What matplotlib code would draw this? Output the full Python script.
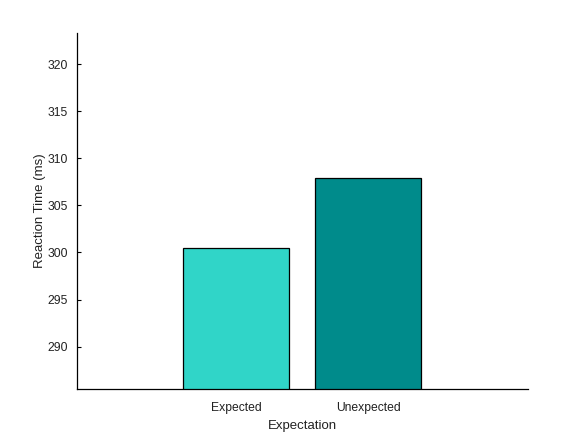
import matplotlib
matplotlib.use('Agg')
import matplotlib.pyplot as plt

plt.rcParams['font.family'] = ['Liberation Sans', 'DejaVu Sans']

# Reaction times per condition
conditions = ['Expected', 'Unexpected']
reaction_times = [300.52, 307.93]
bar_colors = ['#30D5C8', '#008B8B']

fig = plt.figure(figsize=(5.84, 4.38), dpi=100)
ax = fig.add_axes([76.5 / 584, 1 - 389 / 438, (528 - 76.5) / 584, (389 - 33) / 438])

positions = list(range(len(conditions)))
ax.bar(positions, reaction_times, width=0.805, color=bar_colors,
       edgecolor='black', linewidth=0.9, zorder=2)

ax.set_xlim(-1.21, 2.21)
ax.set_ylim(285.5, 323.3)
ax.set_xticks(positions)
ax.set_xticklabels(conditions)
ax.set_yticks([290, 295, 300, 305, 310, 315, 320])

ax.spines['top'].set_visible(False)
ax.spines['right'].set_visible(False)
ax.spines['left'].set_linewidth(0.9)
ax.spines['bottom'].set_linewidth(0.9)
ax.tick_params(direction='in', length=3, width=0.8, labelsize=8.7,
               labelcolor='#222222')
ax.tick_params(axis='x', pad=9)
ax.tick_params(axis='y', pad=6)
for spine in ax.spines.values():
    spine.set_zorder(3)

ax.set_xlabel('Expectation', fontsize=9.5, labelpad=5, color='#222222')
ax.set_ylabel('Reaction Time (ms)', fontsize=9.5, labelpad=1, color='#222222')

fig.savefig('out.png', dpi=100)
